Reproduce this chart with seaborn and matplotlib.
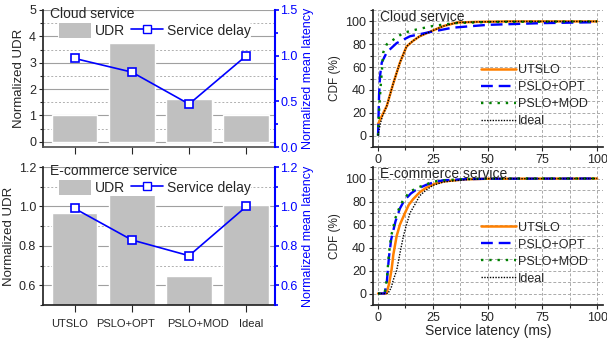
import numpy as np
import pandas as pd
import seaborn as sns
import matplotlib.pyplot as plt
from matplotlib.patches import Patch
from matplotlib.lines import Line2D
from matplotlib.ticker import MultipleLocator
from matplotlib.transforms import ScaledTranslation

sns.set_theme(style="ticks")
plt.rcParams['font.family'] = ['Liberation Sans', 'DejaVu Sans']
plt.rcParams['font.size'] = 9

# Datos barras / retardo
esquemas = ['UTSLO', 'PSLO+OPT', 'PSLO+MOD', 'Ideal']
udr_cloud = [1.0, 3.75, 1.63, 1.02]
delay_cloud = [0.97, 0.82, 0.47, 1.0]
udr_ecom = [0.965, 1.07, 0.645, 1.005]
delay_ecom = [0.99, 0.83, 0.75, 1.0]

# Datos CDF (Cloud)
cl_utslo_x = [0, 1.7, 4, 7, 10, 13, 16, 19, 25, 30, 36, 45, 60, 80, 100]
cl_utslo_y = [10, 17, 26, 46, 64, 78, 83, 87, 92, 96, 99, 99.6, 100, 100, 100]
cl_opt_x = [0, 0.5, 0.9, 1.7, 4, 8.5, 14.6, 22, 34, 50, 75, 90, 100]
cl_opt_y = [0, 37, 52, 64, 73, 81, 87, 90, 94.5, 97, 98.5, 99, 99.3]
cl_mod_x = [0, 0.5, 1.2, 2.4, 4, 7, 11.6, 17.7, 25, 35, 50, 100]
cl_mod_y = [0, 23, 43, 73, 80, 84, 90, 93, 96, 98.5, 99.5, 100]
cl_ideal_x = [0, 1, 2, 4, 7, 10, 13, 16, 19, 25, 30, 36, 45, 60, 80, 100]
cl_ideal_y = [0, 10, 17, 26, 46, 64, 78, 83, 87, 92, 96, 99, 99.6, 100, 100, 100]

# Datos CDF (E-commerce)
ec_utslo_x = [0, 3.8, 5, 6.2, 7, 8.5, 10, 12.3, 14, 16, 19, 22, 26, 30, 40, 50, 100]
ec_utslo_y = [0, 0, 8, 21, 34, 50, 60, 70, 77, 82, 88, 92, 95.5, 97.5, 99.3, 99.8, 100]
ec_opt_x = [0, 3, 4, 5, 6, 8, 10, 12, 15, 18, 22, 26, 30, 40, 50, 100]
ec_opt_y = [0, 0, 10, 32, 47, 63, 74, 81, 87, 91, 94.5, 97, 98.5, 99.4, 99.8, 100]
ec_mod_x = [0, 3, 4, 5, 6, 8, 10, 12, 15, 18, 22, 26, 30, 40, 50, 100]
ec_mod_y = [0, 0, 12, 35, 50, 66, 76, 83, 89, 92, 95, 97.5, 98.5, 99.5, 100, 100]
ec_ideal_x = [0, 4.5, 6, 7, 8.5, 10, 11.6, 13, 14.6, 17, 19, 22, 25, 30, 40, 50, 100]
ec_ideal_y = [0, 0, 5, 12, 20, 35, 50, 60, 70, 78, 85, 90, 94, 97, 99, 99.8, 100]

colores = {'UTSLO': '#FF8000', 'PSLO+OPT': '#0000FF', 'PSLO+MOD': '#008000', 'Ideal': 'black'}
estilos = {'UTSLO': ('-', 1.8), 'PSLO+OPT': ((0, (5, 2.5)), 1.7),
           'PSLO+MOD': ((0, (1, 2.5)), 1.7), 'Ideal': ((0, (1, 1)), 1.0)}

# desplazamiento (px) de las etiquetas del eje x, como en la figura original
desplaz_x = [-5, -6, 9, 5]

fig = plt.figure(figsize=(6.07, 3.39), dpi=100)


def panel_barras(rect, udr, delay, titulo, ylim, yticks, ylim2, yticks2, labels_x, bottom_dotted):
    ax = fig.add_axes(rect)
    sns.barplot(x=esquemas, y=udr, color='#C0C0C0', width=0.8, errorbar=None,
                saturation=1, ax=ax)
    ax.set_ylim(*ylim)
    ax.set_yticks(yticks)
    ax.yaxis.set_minor_locator(MultipleLocator((yticks[1] - yticks[0]) / 2))
    ax.set_axisbelow(True)
    ax.yaxis.grid(True, which='major', color='#A0A0A0', lw=0.8, ls='-')
    ax.yaxis.grid(True, which='minor', color='#B0B0B0', lw=0.7, ls=(0, (2, 2)))
    ax.set_ylabel('Normalized UDR', fontsize=9.5, labelpad=3)
    ax.spines['top'].set_visible(False)
    ax.spines['right'].set_visible(False)
    if bottom_dotted:
        ax.spines['bottom'].set_linestyle((0, (1, 1)))
        ax.spines['bottom'].set_color('#555555')
    ax.tick_params(axis='y', which='both', direction='out', length=3, width=0.8,
                   labelsize=9, pad=2)
    ax.tick_params(axis='y', which='minor', length=2)
    ax.tick_params(axis='x', direction='out', length=5, width=0.8, labelsize=8, pad=5)
    if not labels_x:
        ax.set_xticklabels([])
    else:
        for lab, dx in zip(ax.get_xticklabels(), desplaz_x):
            lab.set_transform(lab.get_transform() + ScaledTranslation(dx / 100, 0, fig.dpi_scale_trans))
    ax.set_xlabel('')
    ax.text(0.03, 1.02, titulo, transform=ax.transAxes, ha='left', va='top', fontsize=10)

    ax2 = ax.twinx()
    sns.lineplot(x=np.arange(len(esquemas)), y=delay, ax=ax2, color='#0000FF', lw=1.2,
                 marker='s', markersize=6, markerfacecolor='white',
                 markeredgecolor='#0000FF', markeredgewidth=1.2)
    ax2.set_ylim(*ylim2)
    ax2.set_yticks(yticks2)
    ax2.yaxis.set_minor_locator(MultipleLocator((yticks2[1] - yticks2[0]) / 2))
    ax2.set_ylabel('Normalized mean latency', color='#0000FF', fontsize=9, labelpad=3)
    for s in ['top', 'left', 'bottom']:
        ax2.spines[s].set_visible(False)
    ax2.spines['right'].set_color('#0000FF')
    ax2.spines['right'].set_linewidth(1.5)
    ax2.tick_params(axis='y', which='both', colors='#0000FF', direction='out',
                    length=3, width=1.2, labelsize=9, pad=1)
    ax2.tick_params(axis='y', which='minor', length=2)
    ax.set_xlim(-0.55, 3.5)

    handles = [Patch(facecolor='#C0C0C0', edgecolor='none', label='UDR'),
               Line2D([], [], color='#0000FF', lw=1.2, marker='s', markersize=6,
                      markerfacecolor='white', label='Service delay')]
    ax2.legend(handles=handles, ncol=2, loc='upper left', bbox_to_anchor=(0.065, 0.91),
               frameon=True, facecolor='white', edgecolor='none', framealpha=1,
               fontsize=10, handlelength=2.3, handleheight=1.3, columnspacing=0.4,
               handletextpad=0.3, borderpad=0.05, borderaxespad=0)
    return ax


def panel_cdf(rect, curvas, titulo, xlabel):
    ax = fig.add_axes(rect)
    for nombre, (xs, ys) in curvas.items():
        ls, lw = estilos[nombre]
        df = pd.DataFrame({'lat': xs, 'cdf': ys})
        sns.lineplot(data=df, x='lat', y='cdf', ax=ax, color=colores[nombre],
                     lw=lw, ls=ls, label=nombre, sort=False, estimator=None)
    ax.set_xlim(-2.3, 102.7)
    ax.set_ylim(-10, 110)
    ax.set_xticks([0, 25, 50, 75, 100])
    ax.set_yticks([0, 20, 40, 60, 80, 100])
    ax.xaxis.set_minor_locator(MultipleLocator(12.5))
    ax.yaxis.set_minor_locator(MultipleLocator(10))
    ax.grid(True, which='both', color='#AAAAAA', lw=0.7, ls=(0, (3, 2)))
    ax.set_axisbelow(True)
    for s in ['top', 'right']:
        ax.spines[s].set_visible(False)
    ax.tick_params(axis='both', which='both', direction='out', length=3, width=0.8,
                   labelsize=9, pad=2)
    ax.tick_params(axis='both', which='minor', length=2)
    ax.set_ylabel('CDF (%)', fontsize=8.5, labelpad=3)
    ax.set_xlabel(xlabel, fontsize=10, labelpad=0)
    ax.text(0.03, 1.0, titulo, transform=ax.transAxes, ha='left', va='top', fontsize=10)
    ax.legend(loc='lower right', bbox_to_anchor=(0.955, 0.11), frameon=False, fontsize=9,
              handlelength=2.8, handletextpad=0.15, labelspacing=0.4, borderaxespad=0)
    return ax


panel_barras([43 / 607, 1 - 147 / 339, 232 / 607, 137 / 339], udr_cloud, delay_cloud,
             'Cloud service', (-0.2, 5), [0, 1, 2, 3, 4, 5], (0, 1.5),
             [0.0, 0.5, 1.0, 1.5], False, True)
panel_barras([43 / 607, 1 - 305 / 339, 232 / 607, 138 / 339], udr_ecom, delay_ecom,
             'E-commerce service', (0.5, 1.2), [0.6, 0.8, 1.0, 1.2], (0.5, 1.2),
             [0.6, 0.8, 1.0, 1.2], True, False)

panel_cdf([373 / 607, 1 - 147 / 339, 230 / 607, 137 / 339],
          {'UTSLO': (cl_utslo_x, cl_utslo_y), 'PSLO+OPT': (cl_opt_x, cl_opt_y),
           'PSLO+MOD': (cl_mod_x, cl_mod_y), 'Ideal': (cl_ideal_x, cl_ideal_y)},
          'Cloud service', '')
panel_cdf([373 / 607, 1 - 305 / 339, 230 / 607, 138 / 339],
          {'UTSLO': (ec_utslo_x, ec_utslo_y), 'PSLO+OPT': (ec_opt_x, ec_opt_y),
           'PSLO+MOD': (ec_mod_x, ec_mod_y), 'Ideal': (ec_ideal_x, ec_ideal_y)},
          'E-commerce service', 'Service latency (ms)')

fig.savefig('out.png', dpi=100)
